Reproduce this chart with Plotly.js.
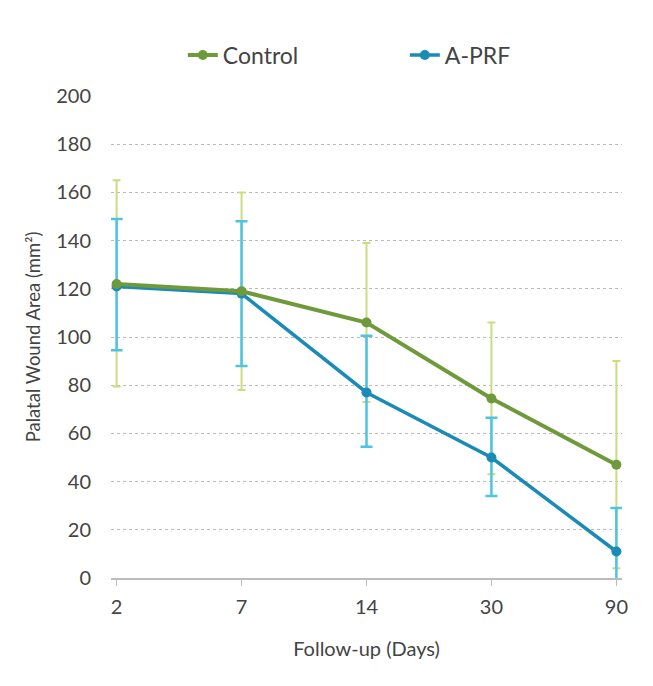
<!DOCTYPE html>
<html>
<head>
<meta charset="utf-8">
<script src="https://cdn.plot.ly/plotly-3.0.1.min.js"></script>
<style>
  html, body { margin: 0; padding: 0; background: #fff; }
  #chart { width: 653px; height: 686px; }
</style>
</head>
<body>
<div id="chart"></div>
<script>
// follow-up days (categories)
const days = ["2", "7", "14", "30", "90"];

// mean wound area, mm2
const controlMean = [122, 119, 106, 74.5, 47];
const controlErrPlus = [43, 41, 33, 31.5, 43];
const controlErrMinus = [42.5, 41, 33, 31.5, 43];

const aprfMean = [121, 118, 77, 50, 11];
const aprfErrPlus = [28, 30, 23.5, 16.5, 18];
const aprfErrMinus = [26.5, 30, 22.5, 16, 18];

const green = "#6f9a3b";
const greenLight = "#c9dd7e";
const blue = "#1a8bb6";
const blueLight = "#4cc4e2";

const fontFamily = "Lato, 'Open Sans', sans-serif";

// small padding so the end error bars are not clipped by the plot area
const pad = 0.045;

const traces = [
    {
        x: days, y: controlMean, type: "scatter", mode: "markers",
        marker: { size: 1, color: "rgba(0,0,0,0)" },
        error_y: { type: "data", array: controlErrPlus, arrayminus: controlErrMinus, color: greenLight, thickness: 2, width: 4 },
        showlegend: false, hoverinfo: "skip"
    },
    {
        x: days, y: aprfMean, type: "scatter", mode: "markers",
        marker: { size: 1, color: "rgba(0,0,0,0)" },
        error_y: { type: "data", array: aprfErrPlus, arrayminus: aprfErrMinus, color: blueLight, thickness: 2.5, width: 6 },
        showlegend: false, hoverinfo: "skip"
    },
    {
        x: days, y: aprfMean, type: "scatter", mode: "lines+markers",
        name: "A-PRF", legendrank: 2, cliponaxis: false,
        line: { color: blue, width: 3.5 },
        marker: { color: blue, size: 10 }
    },
    {
        x: days, y: controlMean, type: "scatter", mode: "lines+markers",
        name: "Control", legendrank: 1, cliponaxis: false,
        line: { color: green, width: 4 },
        marker: { color: green, size: 10 }
    }
];

const layout = {
    width: 653,
    height: 686,
    paper_bgcolor: "#fff",
    plot_bgcolor: "#fff",
    font: { family: fontFamily, color: "#444", size: 20 },
    margin: { l: 111, r: 31, t: 96, b: 108, autoexpand: false },
    showlegend: true,
    legend: {
        orientation: "h",
        x: 0.575, xanchor: "center",
        y: 1.085, yanchor: "middle",
        entrywidth: 177,
        itemwidth: 30,
        font: { size: 23, color: "#444" }
    },
    xaxis: {
        type: "category",
        range: [-pad, 4 + pad],
        showgrid: false,
        showline: true,
        linecolor: "#bbb",
        linewidth: 1.5,
        ticks: "outside",
        ticklen: 6,
        tickcolor: "#bbb",
        ticklabelstandoff: 4,
        tickfont: { size: 20, color: "#444" },
        title: { text: "Follow-up (Days)", font: { size: 20, color: "#444" }, standoff: 25 }
    },
    yaxis: {
        range: [0, 200],
        dtick: 20,
        showline: false,
        zeroline: false,
        showgrid: true,
        gridcolor: "#bbb",
        griddash: "dot",
        gridwidth: 1,
        ticks: "",
        ticklabelstandoff: 19,
        tickfont: { size: 20, color: "#444" },
        title: { text: "Palatal Wound Area (mm²)", font: { size: 18.5, color: "#444" }, standoff: 10 }
    }
};

Plotly.newPlot("chart", traces, layout, { displayModeBar: false });
</script>
</body>
</html>
